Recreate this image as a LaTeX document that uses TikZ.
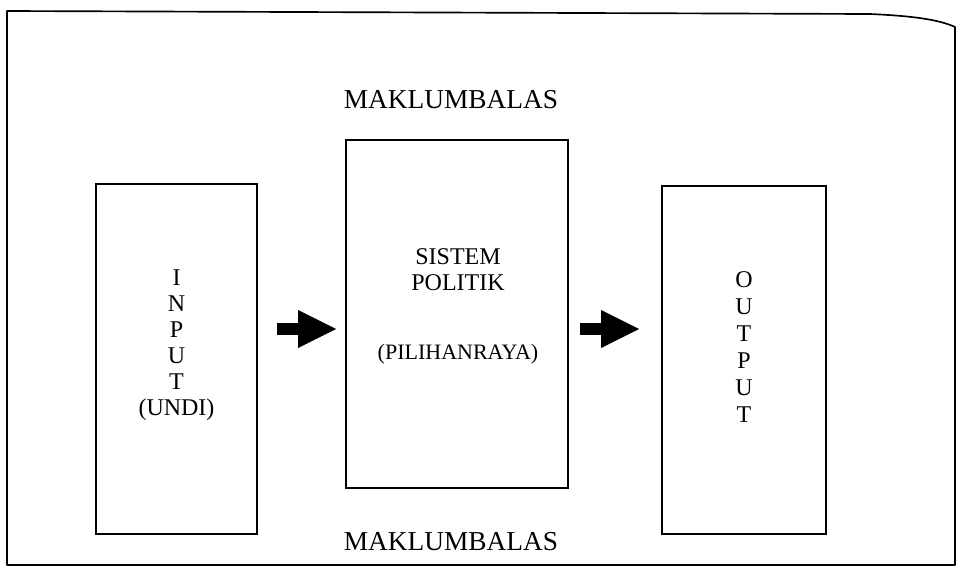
\documentclass[tikz,border=0pt]{standalone}
\usepackage{fontspec}
\setmainfont{Liberation Serif}
\usetikzlibrary{arrows.meta}
\tikzset{
  box/.style={draw, line width=1.25pt, inner sep=0pt},
  txt/.style={inner sep=0pt, font=\fontsize{18}{21}\selectfont, text height=11.9pt, text depth=0pt},
  bigtxt/.style={txt, font=\fontsize{20.5}{24}\selectfont, text height=13.6pt},
  fat/.style={line width=9pt, -{Triangle[length=28.5pt, width=28.5pt, line width=0pt]}}
}
\begin{document}
\begin{tikzpicture}[x=0.75pt, y=-0.75pt]
\useasboundingbox (0,0) rectangle (960,568);
% outer frame
\draw[line width=1.25pt, line join=round] (7,11) -- (870,14) .. controls (915,16) and (940,20) .. (955,27) -- (955,565) -- (7,565) -- cycle;
% boxes
\node[box, minimum width=120.75pt, minimum height=262.5pt] (input) at (176.5,359) {};
\node[box, minimum width=166.5pt, minimum height=261pt] (sistem) at (457,314) {};
\node[box, minimum width=123pt, minimum height=261pt] (output) at (744,360) {};
% texts
\node[bigtxt] (mbatas) at (451,99) {MAKLUMBALAS};
\node[bigtxt] (mbawah) at (451,541) {MAKLUMBALAS};
\node[txt] (sis) at (458,257) {SISTEM};
\node[txt] (pol) at (458,283) {POLITIK};
\node[txt, font=\fontsize{16.5}{20}\selectfont, text height=10.9pt] (pilih) at (458,352) {(PILIHANRAYA)};
\foreach \l [count=\i from 0] in {I,N,P,U,T,(UNDI)}
  \node[txt] (in\i) at (176.5,278+26*\i) {\l};
\foreach \l [count=\i from 0] in {O,U,T,P,U,T}
  \node[txt] (out\i) at (744,280+27*\i) {\l};
% arrows
\draw[fat, shorten <=14.25pt, shorten >=6.75pt] (input.east |- 0,329) -- (sistem.west |- 0,329);
\draw[fat, shorten <=8.25pt, shorten >=16.5pt] (sistem.east |- 0,329) -- (output.west |- 0,329);
\end{tikzpicture}
\end{document}
